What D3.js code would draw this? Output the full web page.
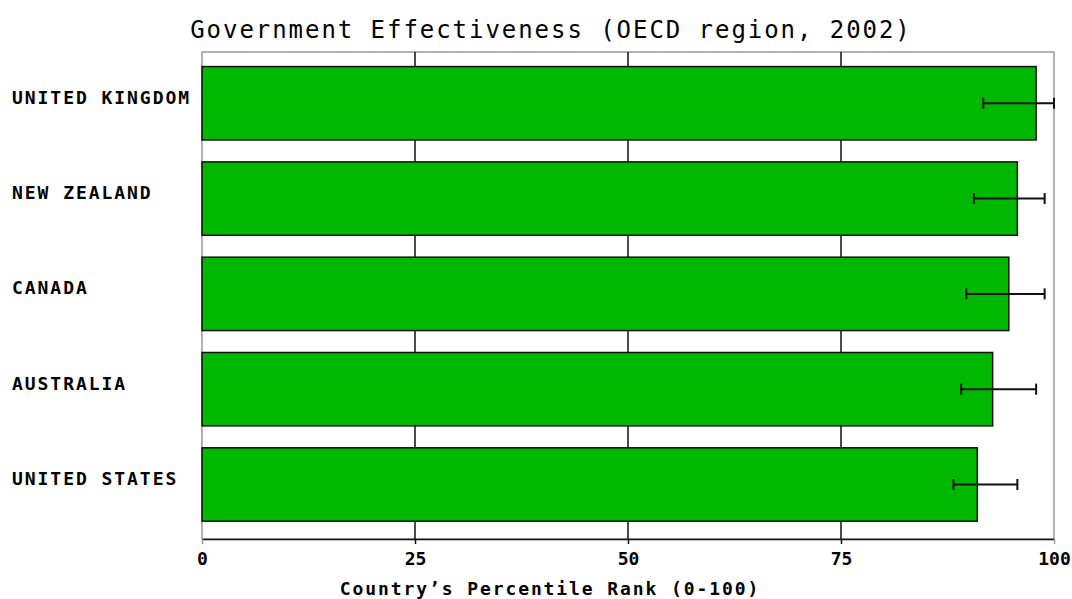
<!DOCTYPE html>
<html>
<head>
<meta charset="utf-8">
<script src="https://cdn.jsdelivr.net/npm/d3@7"></script>
<style>
  html, body { margin: 0; padding: 0; background: #fff; }
  svg { display: block; }
  text { font-family: "DejaVu Sans Mono", "Liberation Mono", monospace; fill: #000; }
</style>
</head>
<body>
<svg id="chart" width="1072" height="599"></svg>
<script>
// Percentile rank with lower / upper bounds of the confidence range
const countries = ["UNITED KINGDOM", "NEW ZEALAND", "CANADA", "AUSTRALIA", "UNITED STATES"];
const rank      = [97.9, 95.7, 94.7, 92.8, 91.0];
const lower     = [91.7, 90.6, 89.7, 89.1, 88.2];
const upper     = [100.0, 98.9, 98.9, 97.9, 95.7];
const xTicks    = [0, 25, 50, 75, 100];

const titleText = "Government Effectiveness (OECD region, 2002)";
const xTitle    = "Country\u2019s Percentile Rank (0-100)";

const svg = d3.select("#chart");
const plotL = 202, plotR = 1054, plotT = 52, plotB = 539;

const x = d3.scaleLinear().domain([0, 100]).range([plotL, plotR]);
const y = d3.scaleBand().domain(countries).range([plotT, plotB])
  .paddingInner(0.23).paddingOuter(0.17).align(0.45);

// title
svg.append("text")
  .attr("x", 551).attr("y", 30)
  .attr("text-anchor", "middle").attr("dominant-baseline", "central")
  .style("font-size", "24px").style("letter-spacing", "1.95px")
  .text(titleText);

// plot frame
svg.append("rect")
  .attr("x", plotL).attr("y", plotT)
  .attr("width", plotR - plotL).attr("height", plotB - plotT)
  .attr("fill", "none").attr("stroke", "#999").attr("stroke-width", 1.5);

// vertical grid lines
svg.append("g").selectAll("line")
  .data(xTicks.filter(d => d > 0 && d < 100))
  .join("line")
  .attr("x1", d => x(d)).attr("x2", d => x(d))
  .attr("y1", plotT).attr("y2", plotB)
  .attr("stroke", "#111").attr("stroke-width", 1.5);

// bottom axis
const axis = d3.axisBottom(x).tickValues(xTicks).tickSize(5).tickSizeOuter(0).tickPadding(8);
const gAxis = svg.append("g").attr("transform", `translate(0,${plotB})`).call(axis);
gAxis.select(".domain").attr("stroke", "#111").attr("stroke-width", 1.5);
gAxis.selectAll(".tick line").attr("stroke", d => (d === 0 || d === 100) ? "#999" : "#111").attr("stroke-width", 1.5);
gAxis.selectAll(".tick text")
  .style("font-family", "'DejaVu Sans Mono', monospace")
  .style("font-size", "18px").style("font-weight", "bold")
  .attr("fill", "#000");

// axis title
svg.append("text")
  .attr("x", 550).attr("y", 588)
  .attr("text-anchor", "middle").attr("dominant-baseline", "central")
  .style("font-size", "18px").style("font-weight", "bold").style("letter-spacing", "1.9px")
  .text(xTitle);

// bars
svg.append("g").selectAll("rect")
  .data(countries)
  .join("rect")
  .attr("x", x(0))
  .attr("y", d => y(d))
  .attr("width", (d, i) => x(rank[i]) - x(0))
  .attr("height", y.bandwidth())
  .attr("fill", "#00b800")
  .attr("stroke", "#111").attr("stroke-width", 1.5);

// error bars
const err = svg.append("g").attr("stroke", "#111").attr("stroke-width", 2);
countries.forEach((c, i) => {
  const cy = y(c) + y.bandwidth() / 2;
  err.append("line").attr("x1", x(lower[i])).attr("x2", x(upper[i])).attr("y1", cy).attr("y2", cy);
  [lower[i], upper[i]].forEach(v => {
    err.append("line").attr("x1", x(v)).attr("x2", x(v)).attr("y1", cy - 5.5).attr("y2", cy + 5.5);
  });
});

// category labels
svg.append("g").selectAll("text")
  .data(countries)
  .join("text")
  .attr("x", 12)
  .attr("y", d => y(d) + y.bandwidth() / 2 - 6)
  .attr("dominant-baseline", "central")
  .style("font-size", "18px").style("font-weight", "bold").style("letter-spacing", "1.95px")
  .text(d => d);
</script>
</body>
</html>
